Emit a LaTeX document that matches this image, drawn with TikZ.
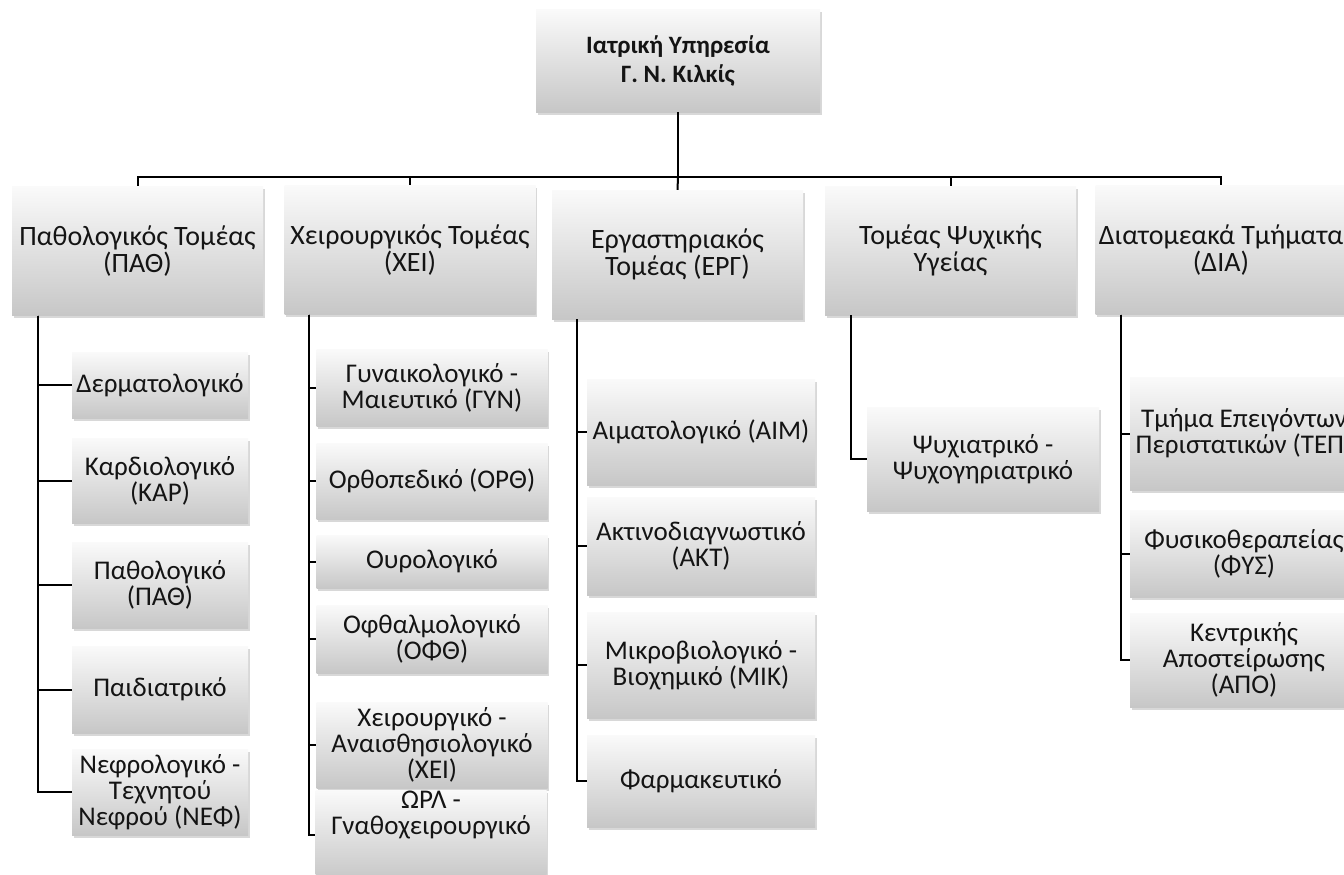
\documentclass[tikz,border=0pt]{standalone}
\usepackage{fontspec}
\setmainfont{Carlito}
\usetikzlibrary{shadows}

\begin{document}
\begin{tikzpicture}[x=1pt, y=-1pt]
% Org chart, sizes in px of the original sheet
\providecommand{\orgLineColor}{black}
\providecommand{\orgLineWidth}{2pt}
\providecommand{\orgTextColor}{black!92}
\tikzset{
  orgbox/.style={draw=none, top color=black!2, bottom color=black!22,
    align=center, text=\orgTextColor, inner sep=2pt,
    font=\fontsize{27}{26}\selectfont,
    drop shadow={shadow xshift=1.5pt, shadow yshift=-2.5pt, opacity=0.3}},
  rootbox/.style={orgbox, font=\bfseries\fontsize{25}{29}\selectfont,
    minimum width=284pt, minimum height=102pt},
  sectorbox/.style={orgbox, font=\fontsize{28}{27}\selectfont,
    minimum width=251pt, minimum height=129pt},
  wire/.style={draw=\orgLineColor, line width=\orgLineWidth}
}
% Page
\useasboundingbox[fill=white] (0,0) rectangle (1344,875);

% Head
\node[rootbox] (root) at (678,61) {Ιατρική Υπηρεσία\\Γ. Ν. Κιλκίς};
\coordinate (bus) at (678,177);

% Sectors
\node[sectorbox] (pat) at (137.5,251) {Παθολογικός Τομέας\\(ΠΑΘ)};
\node[sectorbox] (xei) at (410,250) {Χειρουργικός Τομέας\\(ΧΕΙ)};
\node[sectorbox] (erg) at (677.5,254.5) {Εργαστηριακός\\Τομέας (ΕΡΓ)};
\node[sectorbox] (psy) at (950.5,250.5) {Τομέας Ψυχικής\\Υγείας};
\node[sectorbox] (dia) at (1221,250) {Διατομεακά Τμήματα\\(ΔΙΑ)};

% Pathology units
\begin{scope}[every node/.style={orgbox, minimum width=176pt}]
  \node[minimum height=66pt] (derm) at (160,385) {Δερματολογικό};
  \node[minimum height=85pt] (kard) at (160,480.5) {Καρδιολογικό\\(ΚΑΡ)};
  \node[minimum height=86pt] (path) at (160,585) {Παθολογικό\\(ΠΑΘ)};
  \node[minimum height=87pt] (paid) at (160,689.5) {Παιδιατρικό};
  \node[minimum height=86pt] (nef) at (160,792) {Νεφρολογικό -\\Τεχνητού\\Νεφρού (ΝΕΦ)};
\end{scope}

% Surgery units
\begin{scope}[every node/.style={orgbox, minimum width=231pt}]
  \node[minimum height=77pt] (gyn) at (432,387.5) {Γυναικολογικό -\\Μαιευτικό (ΓΥΝ)};
  \node[minimum height=76pt] (orth) at (432,481) {Ορθοπεδικό (ΟΡΘ)};
  \node[minimum height=53pt] (our) at (432,561.5) {Ουρολογικό};
  \node[minimum height=68pt] (ofth) at (432,639) {Οφθαλμολογικό\\(ΟΦΘ)};
  \node[minimum height=86pt] (xeir) at (432,745) {Χειρουργικό -\\Αναισθησιολογικό\\(ΧΕΙ)};
  \node[minimum height=90pt] (orl) at (431,835) {};
\end{scope}
\node[anchor=north, align=center, text=\orgTextColor,
  font=\fontsize{27}{26}\selectfont, inner sep=0pt] (orltext)
  at ([yshift=-1pt]orl.north) {ΩΡΛ -\\Γναθοχειρουργικό};

% Laboratory units
\begin{scope}[every node/.style={orgbox, minimum width=228pt}]
  \node[minimum height=106pt] (aim) at (701,432) {Αιματολογικό (ΑΙΜ)};
  \node[minimum height=98pt] (akt) at (701,546) {Ακτινοδιαγνωστικό\\(ΑΚΤ)};
  \node[minimum height=106pt] (mik) at (701,665) {Μικροβιολογικό -\\Βιοχημικό (ΜΙΚ)};
  \node[minimum height=92pt] (farm) at (701,781) {Φαρμακευτικό};
\end{scope}

% Mental health unit
\node[orgbox, minimum width=232pt, minimum height=104pt] (psyx) at (983,459)
  {Ψυχιατρικό -\\Ψυχογηριατρικό};

% Cross-sector units
\begin{scope}[every node/.style={orgbox, minimum width=228pt}]
  \node[minimum height=113pt] (tep) at (1244,433.5) {Τμήμα Επειγόντων\\Περιστατικών (ΤΕΠ)};
  \node[minimum height=87pt] (fys) at (1244,553.5) {Φυσικοθεραπείας\\(ΦΥΣ)};
  \node[minimum height=94pt] (apo) at (1244,660) {Κεντρικής\\Αποστείρωσης\\(ΑΠΟ)};
\end{scope}

% Connectors
\begin{scope}[wire]
  \draw (root.south) -- (bus);
  \draw (bus) -| (pat.north);
  \draw (bus) -| (xei.north);
  \draw (bus) -- (erg.north);
  \draw (bus) -| (psy.north);
  \draw (bus) -| (dia.north);
  % Pathology
  \draw ([xshift=26pt]pat.south west) |- (derm.west);
  \draw ([xshift=26pt]pat.south west) |- (kard.west);
  \draw ([xshift=26pt]pat.south west) |- (path.west);
  \draw ([xshift=26pt]pat.south west) |- (paid.west);
  \draw ([xshift=26pt]pat.south west) |- (nef.west);
  % Surgery
  \draw ([xshift=25pt]xei.south west) |- (gyn.west);
  \draw ([xshift=25pt]xei.south west) |- (orth.west);
  \draw ([xshift=25pt]xei.south west) |- (our.west);
  \draw ([xshift=25pt]xei.south west) |- (ofth.west);
  \draw ([xshift=25pt]xei.south west) |- (xeir.west);
  \draw ([xshift=25pt]xei.south west) |- (orl.west);
  % Laboratory
  \draw ([xshift=25pt]erg.south west) |- (aim.west);
  \draw ([xshift=25pt]erg.south west) |- (akt.west);
  \draw ([xshift=25pt]erg.south west) |- (mik.west);
  \draw ([xshift=25pt]erg.south west) |- (farm.west);
  % Mental health
  \draw ([xshift=26pt]psy.south west) |- (psyx.west);
  % Cross-sector
  \draw ([xshift=26pt]dia.south west) |- (tep.west);
  \draw ([xshift=26pt]dia.south west) |- (fys.west);
  \draw ([xshift=26pt]dia.south west) |- (apo.west);
\end{scope}
\end{tikzpicture}
\end{document}
